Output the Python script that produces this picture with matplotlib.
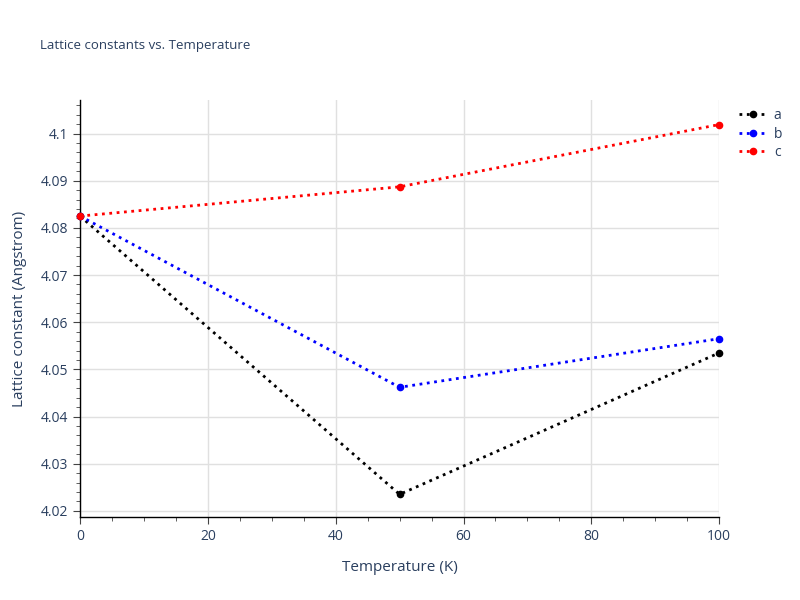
import matplotlib.pyplot as plt
from matplotlib.ticker import MultipleLocator

plt.rcParams['font.family'] = ['Open Sans', 'DejaVu Sans']

temperature = [0, 50, 100]
lattice_a = [4.0825, 4.0235, 4.0535]
lattice_b = [4.0825, 4.0462, 4.0565]
lattice_c = [4.0825, 4.0887, 4.1019]
series = [('a', lattice_a, 'black'), ('b', lattice_b, 'blue'), ('c', lattice_c, 'red')]

text_color = '#2a3f5f'
grid_color = '#e0e0e0'

fig = plt.figure(figsize=(8, 6), dpi=100)
ax = fig.add_axes([0.1, 0.1383, 0.799, 0.695])

for name, values, color in series:
    ax.plot(temperature, values, linestyle=':', linewidth=2, color=color,
            marker='o', markersize=4.5, label=name, clip_on=False, zorder=3)

ax.set_xlim(0, 100)
ax.set_ylim(4.0187, 4.1071)
ax.xaxis.set_major_locator(MultipleLocator(20))
ax.xaxis.set_minor_locator(MultipleLocator(5))
ax.yaxis.set_major_locator(MultipleLocator(0.01))
ax.yaxis.set_minor_locator(MultipleLocator(0.002))
ax.yaxis.set_major_formatter(plt.FuncFormatter(lambda v, p: f'{v:.3f}'.rstrip('0').rstrip('.')))

ax.grid(True, which='major', color=grid_color, linewidth=1)
ax.set_axisbelow(True)
for side in ['top', 'right']:
    ax.spines[side].set_visible(False)
for side in ['left', 'bottom']:
    ax.spines[side].set_color('black')
    ax.spines[side].set_linewidth(1)

ax.tick_params(which='both', direction='out', color='#444444', labelcolor=text_color,
               labelsize=10)
ax.tick_params(which='major', length=5)
ax.tick_params(which='minor', length=3)

ax.set_xlabel('Temperature (K)', color=text_color, fontsize=11, labelpad=12)
ax.set_ylabel('Lattice constant (Angstrom)', color=text_color, fontsize=11, labelpad=10)

fig.text(0.05, 0.925, 'Lattice constants vs. Temperature', color=text_color,
         fontsize=9.5, va='center')

leg = ax.legend(loc='upper left', bbox_to_anchor=(1.018, 1.0), frameon=False,
                fontsize=10, handlelength=2.0, handletextpad=0.5, labelspacing=0.25,
                labelcolor=text_color, borderaxespad=0.2)

fig.savefig('out.png', dpi=100)
